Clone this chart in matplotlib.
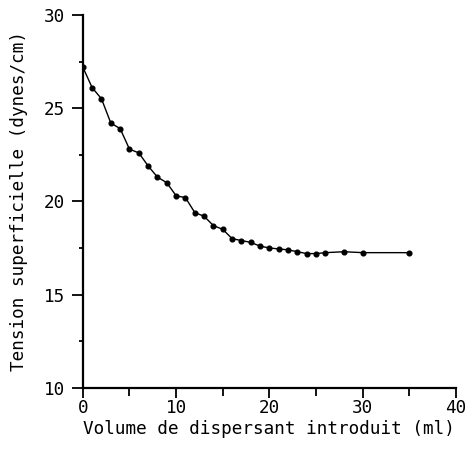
import matplotlib
matplotlib.use("Agg")
import matplotlib.pyplot as plt
from matplotlib.ticker import MultipleLocator

# volume de dispersant (ml) et tension superficielle (dynes/cm)
volume = [0, 1, 2, 3, 4, 5, 6, 7, 8, 9, 10, 11, 12, 13, 14, 15, 16, 17, 18,
          19, 20, 21, 22, 23, 24, 25, 26, 28, 30, 35]
tension = [27.2, 26.1, 25.5, 24.2, 23.9, 22.8, 22.6, 21.9, 21.3, 21.0, 20.3,
           20.2, 19.4, 19.2, 18.7, 18.5, 18.0, 17.9, 17.8, 17.6, 17.5, 17.45,
           17.4, 17.3, 17.2, 17.2, 17.25, 17.3, 17.25, 17.25]

x_ticks = [0, 10, 20, 30, 40]
y_ticks = [10, 15, 20, 25, 30]

plt.rcParams['font.family'] = ['DejaVu Sans Mono', 'DejaVu Sans']

fig = plt.figure(figsize=(4.76, 4.51), dpi=100)
ax = fig.add_axes([0.174, 0.14, 0.784, 0.827])

ax.plot(volume, tension, color='black', lw=1.0, marker='o', ms=3.4,
        mfc='black', mec='black')

ax.set_xlim(0, 40)
ax.set_ylim(10, 30)
ax.set_xticks(x_ticks)
ax.set_yticks(y_ticks)
ax.xaxis.set_minor_locator(MultipleLocator(5))
ax.yaxis.set_minor_locator(MultipleLocator(2.5))

for s in ['top', 'right']:
    ax.spines[s].set_visible(False)
for s in ['left', 'bottom']:
    ax.spines[s].set_linewidth(1.6)

ax.tick_params(axis='x', which='major', labelsize=12.7, width=1.3,
               direction='out', length=7, pad=1)
ax.tick_params(axis='y', which='major', labelsize=12.7, width=1.3,
               direction='out', length=8, pad=5)
ax.tick_params(axis='x', which='minor', width=1.3, direction='out', length=6)
ax.tick_params(axis='y', which='minor', width=1.3, direction='out', length=3)

ax.set_xlabel('Volume de dispersant introduit (ml)', fontsize=12.7, labelpad=2)
ax.set_ylabel('Tension superficielle (dynes/cm)', fontsize=12.7, labelpad=11)

fig.savefig('out.png', dpi=100)
